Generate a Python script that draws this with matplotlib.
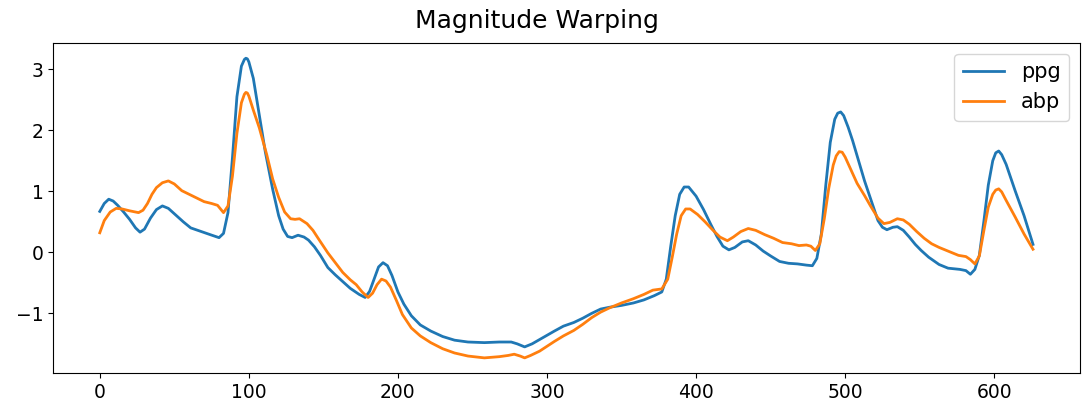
import matplotlib
matplotlib.use("Agg")
import matplotlib.pyplot as plt

# PPG signal after magnitude warping (sample index, value)
ppg_x = [0, 3, 6, 9, 12, 16, 20, 24, 27, 30, 34, 38, 42, 46, 51, 56, 61, 68, 74, 80,
         83, 86, 89, 92, 95, 97, 98, 99, 100, 103, 107, 111, 116, 120, 123, 126, 129, 133, 137,
         140, 144, 148, 153, 158, 163, 168, 174, 178, 181, 184, 187, 190, 193, 196, 200,
         204, 209, 215, 222, 230, 238, 247, 258, 268, 276, 280, 285, 290, 295, 300, 305,
         311, 318, 324, 330, 336, 342, 350, 358, 365, 372, 377, 380, 383, 386, 389, 392,
         395, 400, 405, 410, 414, 418, 422, 426, 431, 435, 440, 445, 450, 456, 462, 468,
         474, 478, 481, 484, 487, 490, 493, 495, 497, 499, 502, 505, 509, 513, 518, 522, 525,
         528, 532, 535, 539, 543, 547, 551, 556, 563, 569, 577, 581, 584, 587, 590, 593,
         596, 599, 601, 603, 605, 608, 614, 620, 626]
ppg_y = [0.67, 0.80, 0.87, 0.84, 0.77, 0.66, 0.54, 0.40, 0.33, 0.38, 0.56, 0.70, 0.76,
         0.72, 0.61, 0.50, 0.40, 0.34, 0.29, 0.24, 0.31, 0.65, 1.55, 2.55, 3.05, 3.16, 3.18,
         3.17, 3.12, 2.85, 2.25, 1.65, 1.03, 0.60, 0.38, 0.26, 0.24, 0.28, 0.25, 0.20, 0.09,
         -0.05, -0.25, -0.37, -0.48, -0.59, -0.69, -0.74, -0.64, -0.44, -0.24, -0.17,
         -0.22, -0.38, -0.65, -0.85, -1.04, -1.19, -1.29, -1.38, -1.44, -1.47, -1.48,
         -1.47, -1.47, -1.50, -1.55, -1.50, -1.43, -1.36, -1.29, -1.21, -1.15, -1.08,
         -1.00, -0.93, -0.90, -0.87, -0.83, -0.78, -0.71, -0.65, -0.44, 0.10, 0.60, 0.95,
         1.07, 1.07, 0.92, 0.70, 0.45, 0.26, 0.10, 0.04, 0.08, 0.17, 0.19, 0.12, 0.02,
         -0.06, -0.15, -0.18, -0.19, -0.21, -0.22, -0.10, 0.30, 1.10, 1.80, 2.18, 2.28, 2.30,
         2.24, 2.05, 1.83, 1.50, 1.17, 0.81, 0.52, 0.41, 0.37, 0.41, 0.42, 0.36, 0.25,
         0.13, 0.03, -0.08, -0.20, -0.26, -0.28, -0.30, -0.36, -0.28, -0.05, 0.50, 1.10,
         1.50, 1.63, 1.66, 1.60, 1.44, 1.01, 0.60, 0.13]

# ABP signal after magnitude warping (sample index, value)
abp_x = [0, 3, 7, 11, 15, 20, 26, 29, 32, 35, 38, 42, 46, 50, 55, 60, 65, 70, 75, 79,
         83, 86, 89, 92, 95, 97, 98, 99, 100, 103, 107, 112, 116, 120, 124, 128, 131, 134, 139,
         143, 147, 153, 158, 163, 168, 172, 176, 180, 183, 186, 189, 192, 195, 199, 203,
         209, 215, 222, 230, 238, 247, 258, 268, 274, 278, 282, 285, 289, 295, 300, 305,
         311, 318, 324, 330, 336, 342, 350, 358, 365, 371, 377, 381, 384, 387, 390, 393,
         396, 401, 406, 411, 416, 421, 425, 430, 435, 440, 446, 452, 458, 464, 469, 474,
         477, 480, 483, 486, 489, 492, 494, 496, 498, 500, 503, 508, 513, 517, 522, 526, 530, 535,
         539, 543, 548, 553, 558, 563, 570, 576, 581, 584, 587, 590, 593, 596, 599, 601, 603,
         605, 608, 614, 620, 626]
abp_y = [0.32, 0.52, 0.66, 0.72, 0.71, 0.68, 0.65, 0.69, 0.80, 0.95, 1.06, 1.14, 1.17,
         1.12, 1.01, 0.95, 0.89, 0.83, 0.80, 0.77, 0.65, 0.76, 1.25, 1.95, 2.45, 2.59, 2.62,
         2.61, 2.56, 2.33, 2.04, 1.60, 1.20, 0.90, 0.66, 0.55, 0.54, 0.55, 0.47, 0.36, 0.21,
         -0.01, -0.17, -0.33, -0.45, -0.53, -0.65, -0.74, -0.67, -0.53, -0.44, -0.47,
         -0.57, -0.79, -1.02, -1.24, -1.37, -1.48, -1.58, -1.65, -1.70, -1.73, -1.71,
         -1.69, -1.67, -1.70, -1.73, -1.69, -1.62, -1.54, -1.46, -1.37, -1.28, -1.18,
         -1.07, -0.98, -0.91, -0.83, -0.76, -0.69, -0.62, -0.60, -0.44, -0.08, 0.30, 0.60,
         0.71, 0.71, 0.62, 0.50, 0.37, 0.25, 0.19, 0.25, 0.34, 0.39, 0.36, 0.29, 0.23,
         0.16, 0.14, 0.11, 0.12, 0.10, 0.03, 0.14, 0.55, 1.05, 1.43, 1.58, 1.65, 1.64, 1.56,
         1.40, 1.13, 0.93, 0.76, 0.56, 0.47, 0.49, 0.55, 0.53, 0.46, 0.34, 0.23, 0.14, 0.08,
         0.01, -0.05, -0.07, -0.12, -0.19, -0.06, 0.35, 0.74, 0.95, 1.02, 1.04, 0.99, 0.85,
         0.58, 0.30, 0.05]

series_labels = ["ppg", "abp"]
title_text = "Magnitude Warping"

fig = plt.figure(figsize=(10.84, 4.12), dpi=100)
ax = fig.add_axes([0.049, 0.095, 0.947, 0.800])

ax.plot(ppg_x, ppg_y, color="#1f77b4", linewidth=2.0, label=series_labels[0])
ax.plot(abp_x, abp_y, color="#ff7f0e", linewidth=2.0, label=series_labels[1])

fig.suptitle(title_text, fontsize=18, x=0.495, y=0.978, va="top")
ax.tick_params(labelsize=13.5)
ax.legend(loc="upper right", fontsize=15)

fig.savefig("out.png", dpi=100)
